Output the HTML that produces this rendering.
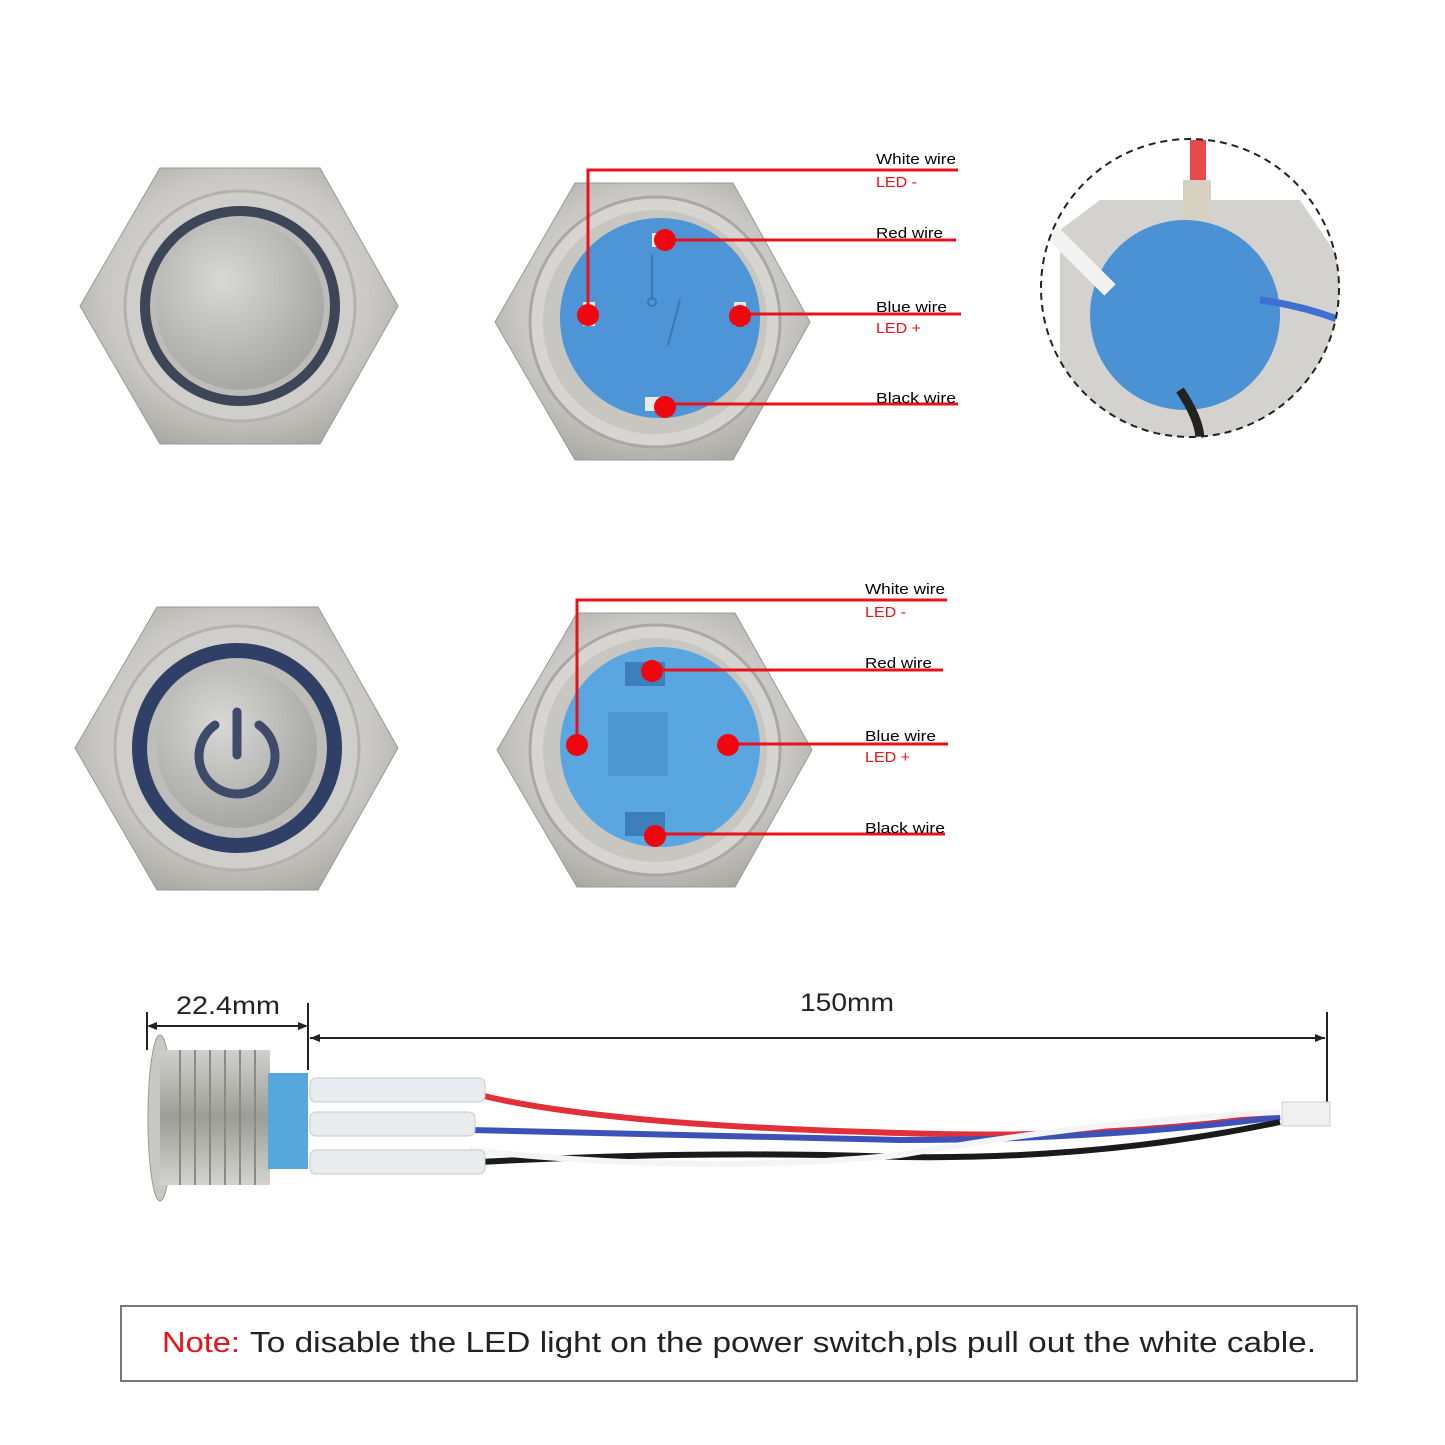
<!DOCTYPE html>
<html><head><meta charset="utf-8"><style>
html,body{margin:0;padding:0;background:#fff;width:1445px;height:1445px;overflow:hidden}
svg{display:block}
text{font-family:"Liberation Sans",sans-serif}
</style></head><body>
<svg width="1445" height="1445" viewBox="0 0 1445 1445">
<defs>
<radialGradient id="met" cx="50%" cy="45%" r="60%"><stop offset="0" stop-color="#e6e6e4"/><stop offset="0.7" stop-color="#c9c8c4"/><stop offset="1" stop-color="#a9a8a3"/></radialGradient>
<radialGradient id="btn" cx="40%" cy="35%" r="70%"><stop offset="0" stop-color="#d8d8d6"/><stop offset="1" stop-color="#a3a3a0"/></radialGradient>
<linearGradient id="thr" x1="0" y1="0" x2="0" y2="1"><stop offset="0" stop-color="#d0d0cc"/><stop offset="0.5" stop-color="#9d9d98"/><stop offset="1" stop-color="#d3d3cf"/></linearGradient>
</defs>

<polygon points="80,306 160,168 320,168 398,306 320,444 160,444" fill="url(#met)" stroke="#999" stroke-width="1"/>
<circle cx="240" cy="306" r="115" fill="#cfcecb" stroke="#b3b2ae" stroke-width="3"/>
<circle cx="240" cy="306" r="100" fill="#3c4656"/>
<circle cx="240" cy="306" r="90" fill="#bdbcb8"/>
<circle cx="240" cy="306" r="84" fill="url(#btn)"/>

<polygon points="495,322 575,183 733,183 810,322 733,460 575,460" fill="url(#met)" stroke="#999"/>
<circle cx="655" cy="322" r="125" fill="#d6d5d1" stroke="#a9a8a4" stroke-width="3"/>
<circle cx="655" cy="322" r="112" fill="#c8c6c0"/>
<circle cx="660" cy="318" r="100" fill="#4d95d6"/>
<line x1="652" y1="255" x2="652" y2="300" stroke="#3a78b4" stroke-width="2"/>
<circle cx="652" cy="302" r="4" fill="none" stroke="#3a78b4" stroke-width="2"/>
<line x1="680" y1="300" x2="668" y2="345" stroke="#3a78b4" stroke-width="2"/>
<rect x="652" y="233" width="22" height="14" fill="#e8e8e8"/>
<rect x="583" y="302" width="12" height="24" fill="#e8e8e8"/>
<rect x="734" y="302" width="12" height="24" fill="#e8e8e8"/>
<rect x="645" y="397" width="24" height="14" fill="#e8e8e8"/>
<g stroke="#e8121a" stroke-width="3" fill="none">
<polyline points="588,315 588,170 958,170"/>
<line x1="665" y1="240" x2="956" y2="240"/>
<line x1="740" y1="314" x2="961" y2="314"/>
<line x1="665" y1="404" x2="958" y2="404"/>
</g>
<g fill="#f0060f"><circle cx="588" cy="315" r="11"/><circle cx="665" cy="240" r="11"/><circle cx="740" cy="316" r="11"/><circle cx="665" cy="407" r="11"/></g>
<g font-size="15">
<text x="876" y="164" textLength="80" lengthAdjust="spacingAndGlyphs">White wire</text><text x="876" y="187" fill="#e8121a" textLength="41" lengthAdjust="spacingAndGlyphs">LED -</text>
<text x="876" y="238" textLength="67" lengthAdjust="spacingAndGlyphs">Red wire</text>
<text x="876" y="312" textLength="71" lengthAdjust="spacingAndGlyphs">Blue wire</text><text x="876" y="333" fill="#e8121a" textLength="45" lengthAdjust="spacingAndGlyphs">LED +</text>
<text x="876" y="403" textLength="80" lengthAdjust="spacingAndGlyphs">Black wire</text>
</g>

<clipPath id="cc"><circle cx="1190" cy="288" r="149"/></clipPath>
<g clip-path="url(#cc)">
<rect x="1040" y="138" width="300" height="300" fill="#fff"/>
<polygon points="1060,230 1100,200 1300,200 1340,260 1340,438 1060,438" fill="#d3d2ce"/>
<circle cx="1185" cy="315" r="95" fill="#4a92d3"/>
<rect x="1190" y="140" width="16" height="70" fill="#e84a4a"/>
<rect x="1183" y="180" width="28" height="40" fill="#d8d0c0"/>
<path d="M1050,230 L1110,290" stroke="#f2f2f2" stroke-width="16"/>
<path d="M1260,300 Q1300,305 1340,320" stroke="#3f6fd0" stroke-width="7" fill="none"/>
<path d="M1180,390 Q1200,420 1200,440" stroke="#222" stroke-width="9" fill="none"/>
</g>
<circle cx="1190" cy="288" r="149" fill="none" stroke="#222" stroke-width="2" stroke-dasharray="7,5"/>

<polygon points="75,748 157,607 318,607 398,748 318,890 157,890" fill="url(#met)" stroke="#999"/>
<circle cx="237" cy="748" r="122" fill="#cfcecb" stroke="#b3b2ae" stroke-width="3"/>
<circle cx="237" cy="748" r="105" fill="#2f3f66"/>
<circle cx="237" cy="748" r="90" fill="#bebdb9"/>
<circle cx="237" cy="748" r="80" fill="url(#btn)"/>
<path d="M215,725 A38,38 0 1 0 259,725" fill="none" stroke="#3d4a6a" stroke-width="9" stroke-linecap="round"/>
<line x1="237" y1="712" x2="237" y2="755" stroke="#3d4a6a" stroke-width="9" stroke-linecap="round"/>

<polygon points="497,750 577,613 735,613 812,750 735,887 577,887" fill="url(#met)" stroke="#999"/>
<circle cx="655" cy="750" r="125" fill="#d6d5d1" stroke="#a9a8a4" stroke-width="3"/>
<circle cx="655" cy="750" r="112" fill="#c8c6c0"/>
<circle cx="660" cy="747" r="100" fill="#5aa6e0"/>
<rect x="608" y="712" width="60" height="64" fill="#4e98d2"/>
<rect x="625" y="662" width="40" height="24" fill="#3d7fbd"/>
<rect x="625" y="812" width="40" height="24" fill="#3d7fbd"/>
<g stroke="#e8121a" stroke-width="3" fill="none">
<polyline points="577,745 577,600 947,600"/>
<line x1="652" y1="670" x2="943" y2="670"/>
<line x1="728" y1="744" x2="948" y2="744"/>
<line x1="655" y1="834" x2="945" y2="834"/>
</g>
<g fill="#f0060f"><circle cx="577" cy="745" r="11"/><circle cx="652" cy="671" r="11"/><circle cx="728" cy="745" r="11"/><circle cx="655" cy="836" r="11"/></g>
<g font-size="15">
<text x="865" y="594" textLength="80" lengthAdjust="spacingAndGlyphs">White wire</text><text x="865" y="617" fill="#e8121a" textLength="41" lengthAdjust="spacingAndGlyphs">LED -</text>
<text x="865" y="668" textLength="67" lengthAdjust="spacingAndGlyphs">Red wire</text>
<text x="865" y="741" textLength="71" lengthAdjust="spacingAndGlyphs">Blue wire</text><text x="865" y="762" fill="#e8121a" textLength="45" lengthAdjust="spacingAndGlyphs">LED +</text>
<text x="865" y="833" textLength="80" lengthAdjust="spacingAndGlyphs">Black wire</text>
</g>

<g stroke="#222" stroke-width="2">
<line x1="147" y1="1012" x2="147" y2="1050"/>
<line x1="308" y1="1003" x2="308" y2="1070"/>
<line x1="1327" y1="1012" x2="1327" y2="1122"/>
<line x1="149" y1="1026" x2="306" y2="1026"/>
<line x1="310" y1="1038" x2="1325" y2="1038"/>
</g>
<g fill="#222">
<polygon points="147,1026 157,1022 157,1030"/><polygon points="308,1026 298,1022 298,1030"/>
<polygon points="310,1038 320,1034 320,1042"/><polygon points="1325,1038 1315,1034 1315,1042"/>
</g>
<text x="176" y="1014" font-size="25" fill="#222" textLength="104" lengthAdjust="spacingAndGlyphs">22.4mm</text>
<text x="800" y="1011" font-size="25" fill="#222" textLength="94" lengthAdjust="spacingAndGlyphs">150mm</text>

<ellipse cx="160" cy="1118" rx="12" ry="83" fill="#c9c8c4" stroke="#999"/>
<rect x="160" y="1050" width="110" height="135" fill="url(#thr)"/>
<g stroke="#8a8a86" stroke-width="2">
<line x1="180" y1="1050" x2="180" y2="1185"/><line x1="195" y1="1050" x2="195" y2="1185"/><line x1="210" y1="1050" x2="210" y2="1185"/><line x1="225" y1="1050" x2="225" y2="1185"/><line x1="240" y1="1050" x2="240" y2="1185"/><line x1="255" y1="1050" x2="255" y2="1185"/>
</g>
<rect x="268" y="1073" width="40" height="96" fill="#55a7dc"/>
<g fill="none" stroke-width="6">
<path d="M480,1095 Q600,1125 900,1133 Q1100,1140 1280,1115" stroke="#e2303a"/>
<path d="M470,1130 Q700,1135 900,1140 Q1100,1140 1280,1117" stroke="#3c52b8"/>
<path d="M480,1162 Q700,1150 900,1157 Q1100,1160 1280,1122" stroke="#1a1a1a"/>
<path d="M470,1150 Q700,1175 900,1155 Q1100,1120 1280,1112" stroke="#f4f4f4"/>
</g>
<rect x="1282" y="1102" width="48" height="24" fill="#f0f0f0" stroke="#ccc"/>
<g fill="#e9ecef" stroke="#c8c8c8">
<rect x="310" y="1078" width="175" height="24" rx="6"/>
<rect x="310" y="1112" width="165" height="24" rx="6"/>
<rect x="310" y="1150" width="175" height="24" rx="6"/>
</g>

<rect x="121" y="1306" width="1236" height="75" fill="#fff" stroke="#777" stroke-width="2"/>
<text x="162" y="1352" font-size="29" fill="#e8121a" textLength="78" lengthAdjust="spacingAndGlyphs">Note:</text>
<text x="250" y="1352" font-size="29" fill="#222" textLength="1066" lengthAdjust="spacingAndGlyphs">To disable the LED light on the power switch,pls pull out the white cable.</text>
</svg>
</body></html>
